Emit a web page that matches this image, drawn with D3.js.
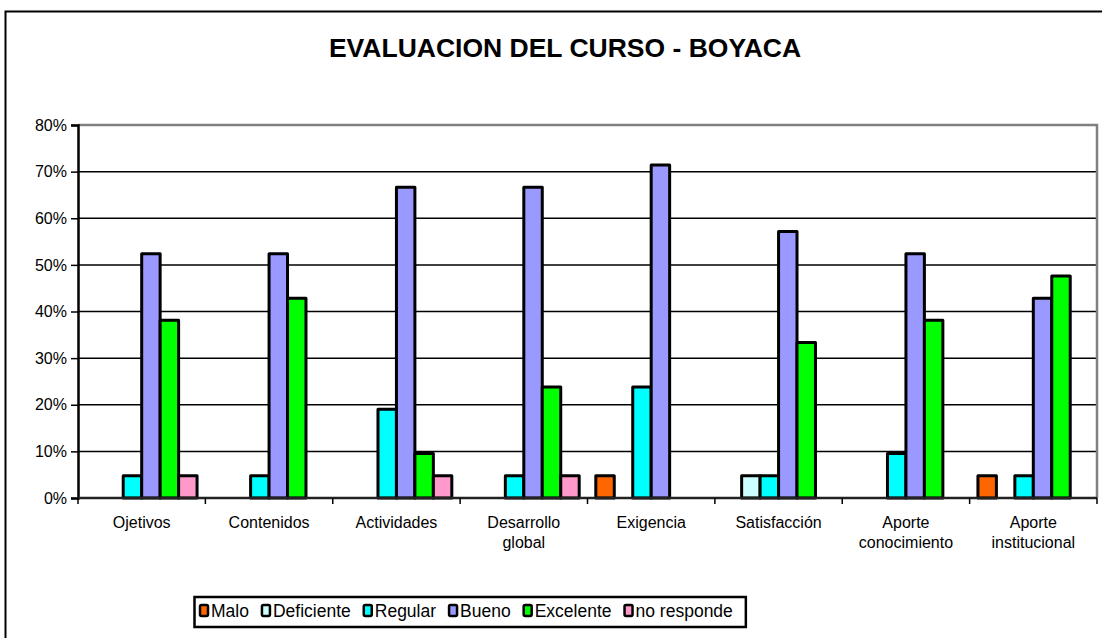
<!DOCTYPE html>
<html>
<head>
<meta charset="utf-8">
<script src="https://cdn.jsdelivr.net/npm/d3@7"></script>
<style>
  body { margin: 0; background: #fff; }
  svg { display: block; font-family: "Liberation Sans", Arial, sans-serif; }
</style>
</head>
<body>
<svg id="chart" width="1102" height="638"></svg>
<script>
// Datos del gráfico (porcentajes)
const categorias = [
  ["Ojetivos"], ["Contenidos"], ["Actividades"], ["Desarrollo", "global"],
  ["Exigencia"], ["Satisfacción"], ["Aporte", "conocimiento"], ["Aporte", "institucional"]
];
const series = ["Malo", "Deficiente", "Regular", "Bueno", "Excelente", "no responde"];
const colores = ["#FF6600", "#CCFFFF", "#00FFFF", "#9999FF", "#00FF00", "#FF99CC"];

const malo       = [0, 0, 0, 0, 4.76, 0, 0, 4.76];
const deficiente = [0, 0, 0, 0, 0, 4.76, 0, 0];
const regular    = [4.76, 4.76, 19.05, 4.76, 23.81, 4.76, 9.52, 4.76];
const bueno      = [52.38, 52.38, 66.67, 66.67, 71.43, 57.14, 52.38, 42.86];
const excelente  = [38.1, 42.86, 9.52, 23.81, 0, 33.33, 38.1, 47.62];
const noResponde = [4.76, 0, 4.76, 4.76, 0, 0, 0, 0];
const valores = [malo, deficiente, regular, bueno, excelente, noResponde];

const ticksY = [0, 10, 20, 30, 40, 50, 60, 70, 80];

let svg = d3.select("#chart");
const plotLeft = 78, plotRight = 1097, plotTop = 125, plotBottom = 498;

// Marco exterior
svg.append("rect")
    .attr("x", 5.5).attr("y", 11.5)
    .attr("width", 1200).attr("height", 700)
    .attr("fill", "none").attr("stroke", "#000").attr("stroke-width", 2);

// Título
svg.append("text")
    .attr("x", 565).attr("y", 57)
    .attr("text-anchor", "middle")
    .attr("font-weight", "bold")
    .attr("font-size", "26.5px")
    .text("EVALUACION DEL CURSO - BOYACA");

// Escalas
let y = d3.scaleLinear().domain([0, 80]).range([plotBottom, plotTop]);
let x0 = d3.scaleBand().domain(d3.range(categorias.length)).range([plotLeft, plotRight]);
let x1 = d3.scaleBand().domain(d3.range(series.length))
    .range([0, x0.bandwidth()]).paddingOuter(0.45);

// Rejilla horizontal
svg.append("g")
    .selectAll("line")
    .data(ticksY.filter(d => d > 0 && d < 80))
    .enter().append("line")
    .attr("x1", plotLeft).attr("x2", plotRight)
    .attr("y1", d => y(d)).attr("y2", d => y(d))
    .attr("stroke", "#000").attr("stroke-width", 1.5);

// Borde superior y derecho del área de trazado
svg.append("path")
    .attr("d", `M${plotLeft},${y(80)}H${plotRight}V${plotBottom}`)
    .attr("fill", "none").attr("stroke", "#808080").attr("stroke-width", 2.5);

// Barras
let grupos = svg.append("g")
    .selectAll("g")
    .data(categorias)
    .enter().append("g")
    .attr("transform", (d, i) => `translate(${x0(i)},0)`);

grupos.selectAll("rect")
    .data((d, i) => valores.map((serie, s) => ({ s: s, v: serie[i] })).filter(d => d.v > 0))
    .enter().append("rect")
    .attr("x", d => x1(d.s))
    .attr("width", x1.bandwidth())
    .attr("y", d => y(d.v))
    .attr("height", d => y(0) - y(d.v))
    .attr("fill", d => colores[d.s])
    .attr("stroke", "#000").attr("stroke-width", 3)
    .attr("stroke-linejoin", "round");

// Eje Y
let ejeY = svg.append("g")
    .attr("transform", `translate(${plotLeft},0)`)
    .call(d3.axisLeft(y).tickValues(ticksY).tickFormat(d => d + "%").tickSize(7).tickPadding(4));
ejeY.select(".domain").attr("stroke", "#000").attr("stroke-width", 2.5);
ejeY.selectAll(".tick line").attr("stroke", "#000").attr("stroke-width", 1.5);
ejeY.selectAll("text").attr("font-size", "16px").attr("fill", "#000")
    .attr("font-family", "Liberation Sans, Arial, sans-serif");

// Eje X
let ejeX = svg.append("g")
    .attr("transform", `translate(0,${plotBottom})`);
ejeX.append("line")
    .attr("x1", plotLeft).attr("x2", plotRight)
    .attr("stroke", "#222").attr("stroke-width", 2.5);
ejeX.selectAll(".tk")
    .data(d3.range(categorias.length + 1))
    .enter().append("line")
    .attr("class", "tk")
    .attr("x1", i => x0.step() * i + plotLeft).attr("x2", i => x0.step() * i + plotLeft)
    .attr("y1", 0).attr("y2", 6)
    .attr("stroke", "#000").attr("stroke-width", 1.5);

let etiquetas = ejeX.selectAll(".lbl")
    .data(categorias)
    .enter().append("text")
    .attr("class", "lbl")
    .attr("text-anchor", "middle")
    .attr("font-size", "16px");
etiquetas.selectAll("tspan")
    .data((d, i) => d.map(t => ({ t: t, i: i })))
    .enter().append("tspan")
    .attr("x", d => x0(d.i) + x0.bandwidth() / 2)
    .attr("y", (d, j) => 30 + j * 20)
    .text(d => d.t);

// Leyenda
let leyenda = svg.append("g");
let cajaLeyenda = leyenda.append("rect")
    .attr("x", 194.5).attr("y", 597)
    .attr("height", 30)
    .attr("fill", "#fff").attr("stroke", "#000").attr("stroke-width", 2.5);

let lx = 200;
series.forEach(function(nombre, s) {
    leyenda.append("rect")
        .attr("x", lx).attr("y", 605)
        .attr("width", 8).attr("height", 11)
        .attr("fill", colores[s])
        .attr("stroke", "#000").attr("stroke-width", 2.5)
        .attr("rx", 1.5);
    let t = leyenda.append("text")
        .attr("x", lx + 11).attr("y", 617)
        .attr("font-size", "17.5px")
        .text(nombre);
    lx += 11 + t.node().getComputedTextLength() + 13;
});
cajaLeyenda.attr("width", lx - 194.5);
</script>
</body>
</html>
